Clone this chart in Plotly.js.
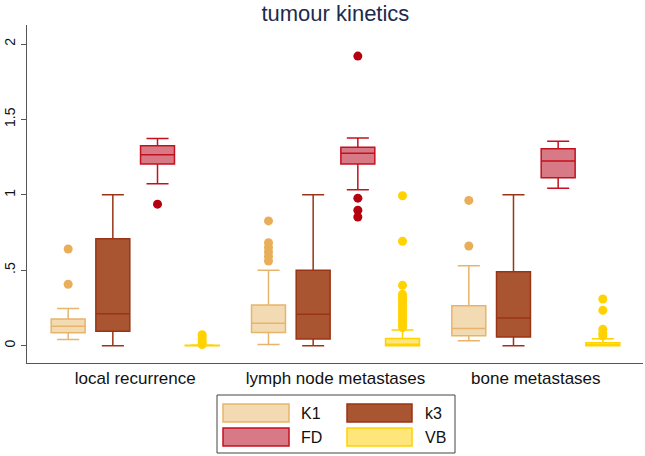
<!DOCTYPE html>
<html>
<head>
<meta charset="utf-8">
<script src="https://cdn.plot.ly/plotly-3.0.1.min.js"></script>
<style>html,body{margin:0;padding:0;background:#fff}#chart{width:645px;height:456px}</style>
</head>
<body>
<div id="chart"></div>
<script>
// ---- data ----
var categories = ['local recurrence', 'lymph node metastases', 'bone metastases'];
var seriesNames = ['K1', 'k3', 'FD', 'VB'];

var K1_q1  = [0.085, 0.088, 0.066];
var K1_med = [0.128, 0.148, 0.113];
var K1_q3  = [0.177, 0.269, 0.264];
var K1_lo  = [0.040, 0.007, 0.032];
var K1_hi  = [0.246, 0.50, 0.53];
var K1_out = [[0.641, 0.407], [0.827, 0.682, 0.651, 0.621, 0.591, 0.561], [0.963, 0.661]];

var k3_q1  = [0.095, 0.044, 0.057];
var k3_med = [0.212, 0.208, 0.183];
var k3_q3  = [0.709, 0.50, 0.49];
var k3_lo  = [0.0, 0.0, 0.0];
var k3_hi  = [1.0, 1.0, 1.0];
var k3_out = null;

var FD_q1  = [1.205, 1.205, 1.114];
var FD_med = [1.265, 1.275, 1.225];
var FD_q3  = [1.326, 1.316, 1.306];
var FD_lo  = [1.074, 1.034, 1.044];
var FD_hi  = [1.374, 1.376, 1.356];
var FD_out = [[0.938], [1.92, 0.978, 0.898, 0.853], []];

var VB_q1  = [0.0, 0.0, 0.0];
var VB_med = [0.0, 0.01, 0.005];
var VB_q3  = [0.003, 0.047, 0.02];
var VB_lo  = [0.0, 0.0, 0.0];
var VB_hi  = [0.005, 0.103, 0.045];
var VB_out = [[0.073, 0.052, 0.032, 0.017, 0.007],
              [0.994, 0.692, 0.40, 0.34, 0.32, 0.30, 0.28, 0.26, 0.24, 0.22, 0.20, 0.18, 0.16, 0.14, 0.12],
              [0.309, 0.234, 0.108, 0.083, 0.065]];

var yTickVals = [0, 0.5, 1, 1.5, 2];
var yTickText = ['0', '.5', '1', '1.5', '2'];

// ---- styles ----
var fills  = ['#f2dab2', '#aa5532', '#d87a85', '#ffe67a'];
var lines  = ['#e8b46c', '#9a3416', '#c4101f', '#ffd200'];
var marks  = ['#e8ae5a', '#9a3416', '#b5000f', '#ffd200'];

var stats = [
  [K1_q1, K1_med, K1_q3, K1_lo, K1_hi, K1_out],
  [k3_q1, k3_med, k3_q3, k3_lo, k3_hi, k3_out],
  [FD_q1, FD_med, FD_q3, FD_lo, FD_hi, FD_out],
  [VB_q1, VB_med, VB_q3, VB_lo, VB_hi, VB_out]
];

var traces = stats.map(function (s, i) {
  var t = {
    type: 'box',
    name: seriesNames[i],
    x: categories,
    q1: s[0], median: s[1], q3: s[2], lowerfence: s[3], upperfence: s[4],
    boxpoints: s[5] ? 'outliers' : false,
    pointpos: 0,
    jitter: 0,
    whiskerwidth: 0.65,
    fillcolor: fills[i],
    line: {color: lines[i], width: 1.5},
    marker: {color: marks[i], size: 9, line: {width: 0}},
    showlegend: false,
    hoverinfo: 'skip'
  };
  if (s[5]) t.y = s[5];
  return t;
});

// ---- legend drawn as shapes + text (paper coords) ----
var L = 27, R = 2, T = 25, B = 93, W = 645, H = 456;
var pw = W - L - R, ph = H - T - B;
function px(x) { return (x - L) / pw; }
function py(y) { return (H - B - y) / ph; }

var shapes = [{
  type: 'rect', xref: 'paper', yref: 'paper',
  x0: px(217), x1: px(455), y0: py(453), y1: py(395),
  line: {color: '#444', width: 1}, fillcolor: 'rgba(0,0,0,0)'
}];
var annotations = [];
var colX = [[223, 289, 299], [347, 412, 423]];
var rowY = [[404, 422], [428, 446]];
seriesNames.forEach(function (n, i) {
  var c = colX[i % 2], r = rowY[Math.floor(i / 2)];
  shapes.push({
    type: 'rect', xref: 'paper', yref: 'paper',
    x0: px(c[0]), x1: px(c[1]), y0: py(r[1]), y1: py(r[0]),
    fillcolor: fills[i], line: {color: lines[i], width: 1.5}
  });
  annotations.push({
    xref: 'paper', yref: 'paper', x: px(c[2]), y: py((r[0] + r[1]) / 2),
    xanchor: 'left', yanchor: 'middle', showarrow: false,
    text: n, font: {size: 16, color: '#111'}
  });
});

var layout = {
  width: W, height: H,
  margin: {l: L, r: R, t: T, b: B, pad: 0},
  paper_bgcolor: '#fff', plot_bgcolor: '#fff',
  font: {family: 'Liberation Sans, Arial, sans-serif', color: '#111'},
  title: {
    text: 'tumour kinetics',
    font: {size: 22, color: '#1c2b4d'},
    x: 0.52, xanchor: 'center',
    y: 1 - 13 / H, yanchor: 'middle', yref: 'container'
  },
  boxmode: 'group',
  boxgap: 0.108,
  boxgroupgap: 0.24,
  xaxis: {
    type: 'category',
    range: [-0.54, 2.535],
    showline: true, linecolor: '#555', linewidth: 1,
    ticks: '', showgrid: false, zeroline: false,
    tickfont: {size: 17, color: '#111'}
  },
  yaxis: {
    range: [-0.115, 2.126],
    showline: true, linecolor: '#555', linewidth: 1,
    ticks: 'outside', ticklen: 5, tickcolor: '#555',
    tickvals: yTickVals, ticktext: yTickText,
    tickangle: -90,
    showgrid: false, zeroline: false,
    tickfont: {size: 14, color: '#111'}
  },
  shapes: shapes,
  annotations: annotations,
  showlegend: false
};

Plotly.newPlot('chart', traces, layout, {displayModeBar: false, staticPlot: true});
</script>
</body>
</html>
